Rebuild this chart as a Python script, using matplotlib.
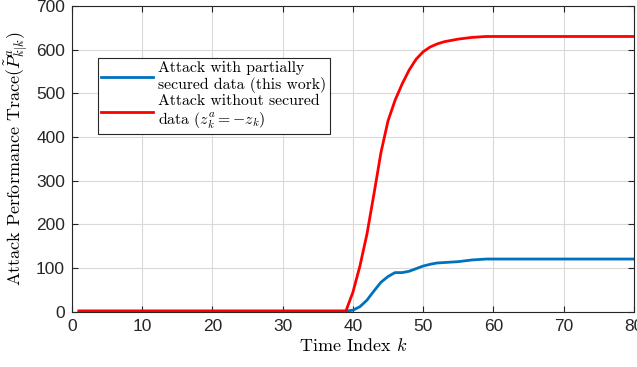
import numpy as np
import matplotlib
matplotlib.use("Agg")
import matplotlib.pyplot as plt

plt.rcParams['mathtext.fontset'] = 'cm'

k = list(range(1, 81))

# Attack without secured data (red)
red_rise = [45, 105, 178, 270, 365, 437, 484, 521, 553, 578, 595, 606, 613, 618,
            621, 624, 626, 628, 629, 630]
red = [2] * 39 + red_rise + [630] * (80 - 39 - len(red_rise))

# Attack with partially secured data (blue)
blue_rise = [4, 12, 27, 48, 68, 81, 90, 90, 93, 99, 105, 109, 112, 113, 114, 115,
             117, 119, 120, 121]
blue = [2] * 39 + blue_rise + [121] * (80 - 39 - len(blue_rise))

xticks = [0, 10, 20, 30, 40, 50, 60, 70, 80]
yticks = [0, 100, 200, 300, 400, 500, 600, 700]

fig = plt.figure(figsize=(6.37, 3.67), dpi=100)
ax = fig.add_axes([0.113, 0.150, 0.882, 0.834])

ax.plot(k, blue, color='#0072BD', lw=2,
        label='Attack with partially\nsecured data (this work)')
ax.plot(k, red, color='#FF0000', lw=2,
        label='Attack without secured\ndata ($z_k^a=-z_k$)')

ax.set_xlim(0, 80)
ax.set_ylim(0, 700)
ax.set_xticks(xticks)
ax.set_yticks(yticks)
ax.grid(True, color='#d9d9d9', lw=0.8)
ax.set_axisbelow(True)
for s in ax.spines.values():
    s.set_color('#262626')
    s.set_linewidth(0.8)
ax.tick_params(direction='in', top=True, right=True, length=4, width=0.8,
               colors='#262626', labelsize=12.5, pad=5)
for lab in ax.get_xticklabels() + ax.get_yticklabels():
    lab.set_fontfamily('Liberation Sans')

ax.set_xlabel('Time Index $k$', fontfamily='cmr10', fontsize=13, labelpad=2)
ax.set_ylabel(r'Attack Performance Trace$(\tilde{P}^{a}_{k|k})$',
              fontfamily='cmr10', fontsize=13, labelpad=4)

leg = ax.legend(loc='upper left', bbox_to_anchor=(0.046, 0.83), borderaxespad=0,
                prop={'family': 'cmr10', 'size': 11.3}, handlelength=3.3,
                fancybox=False, edgecolor='#262626', framealpha=1,
                labelspacing=0.05, borderpad=0.2, handletextpad=0.35)
leg.get_frame().set_linewidth(0.8)

fig.savefig('out.png', dpi=100)
